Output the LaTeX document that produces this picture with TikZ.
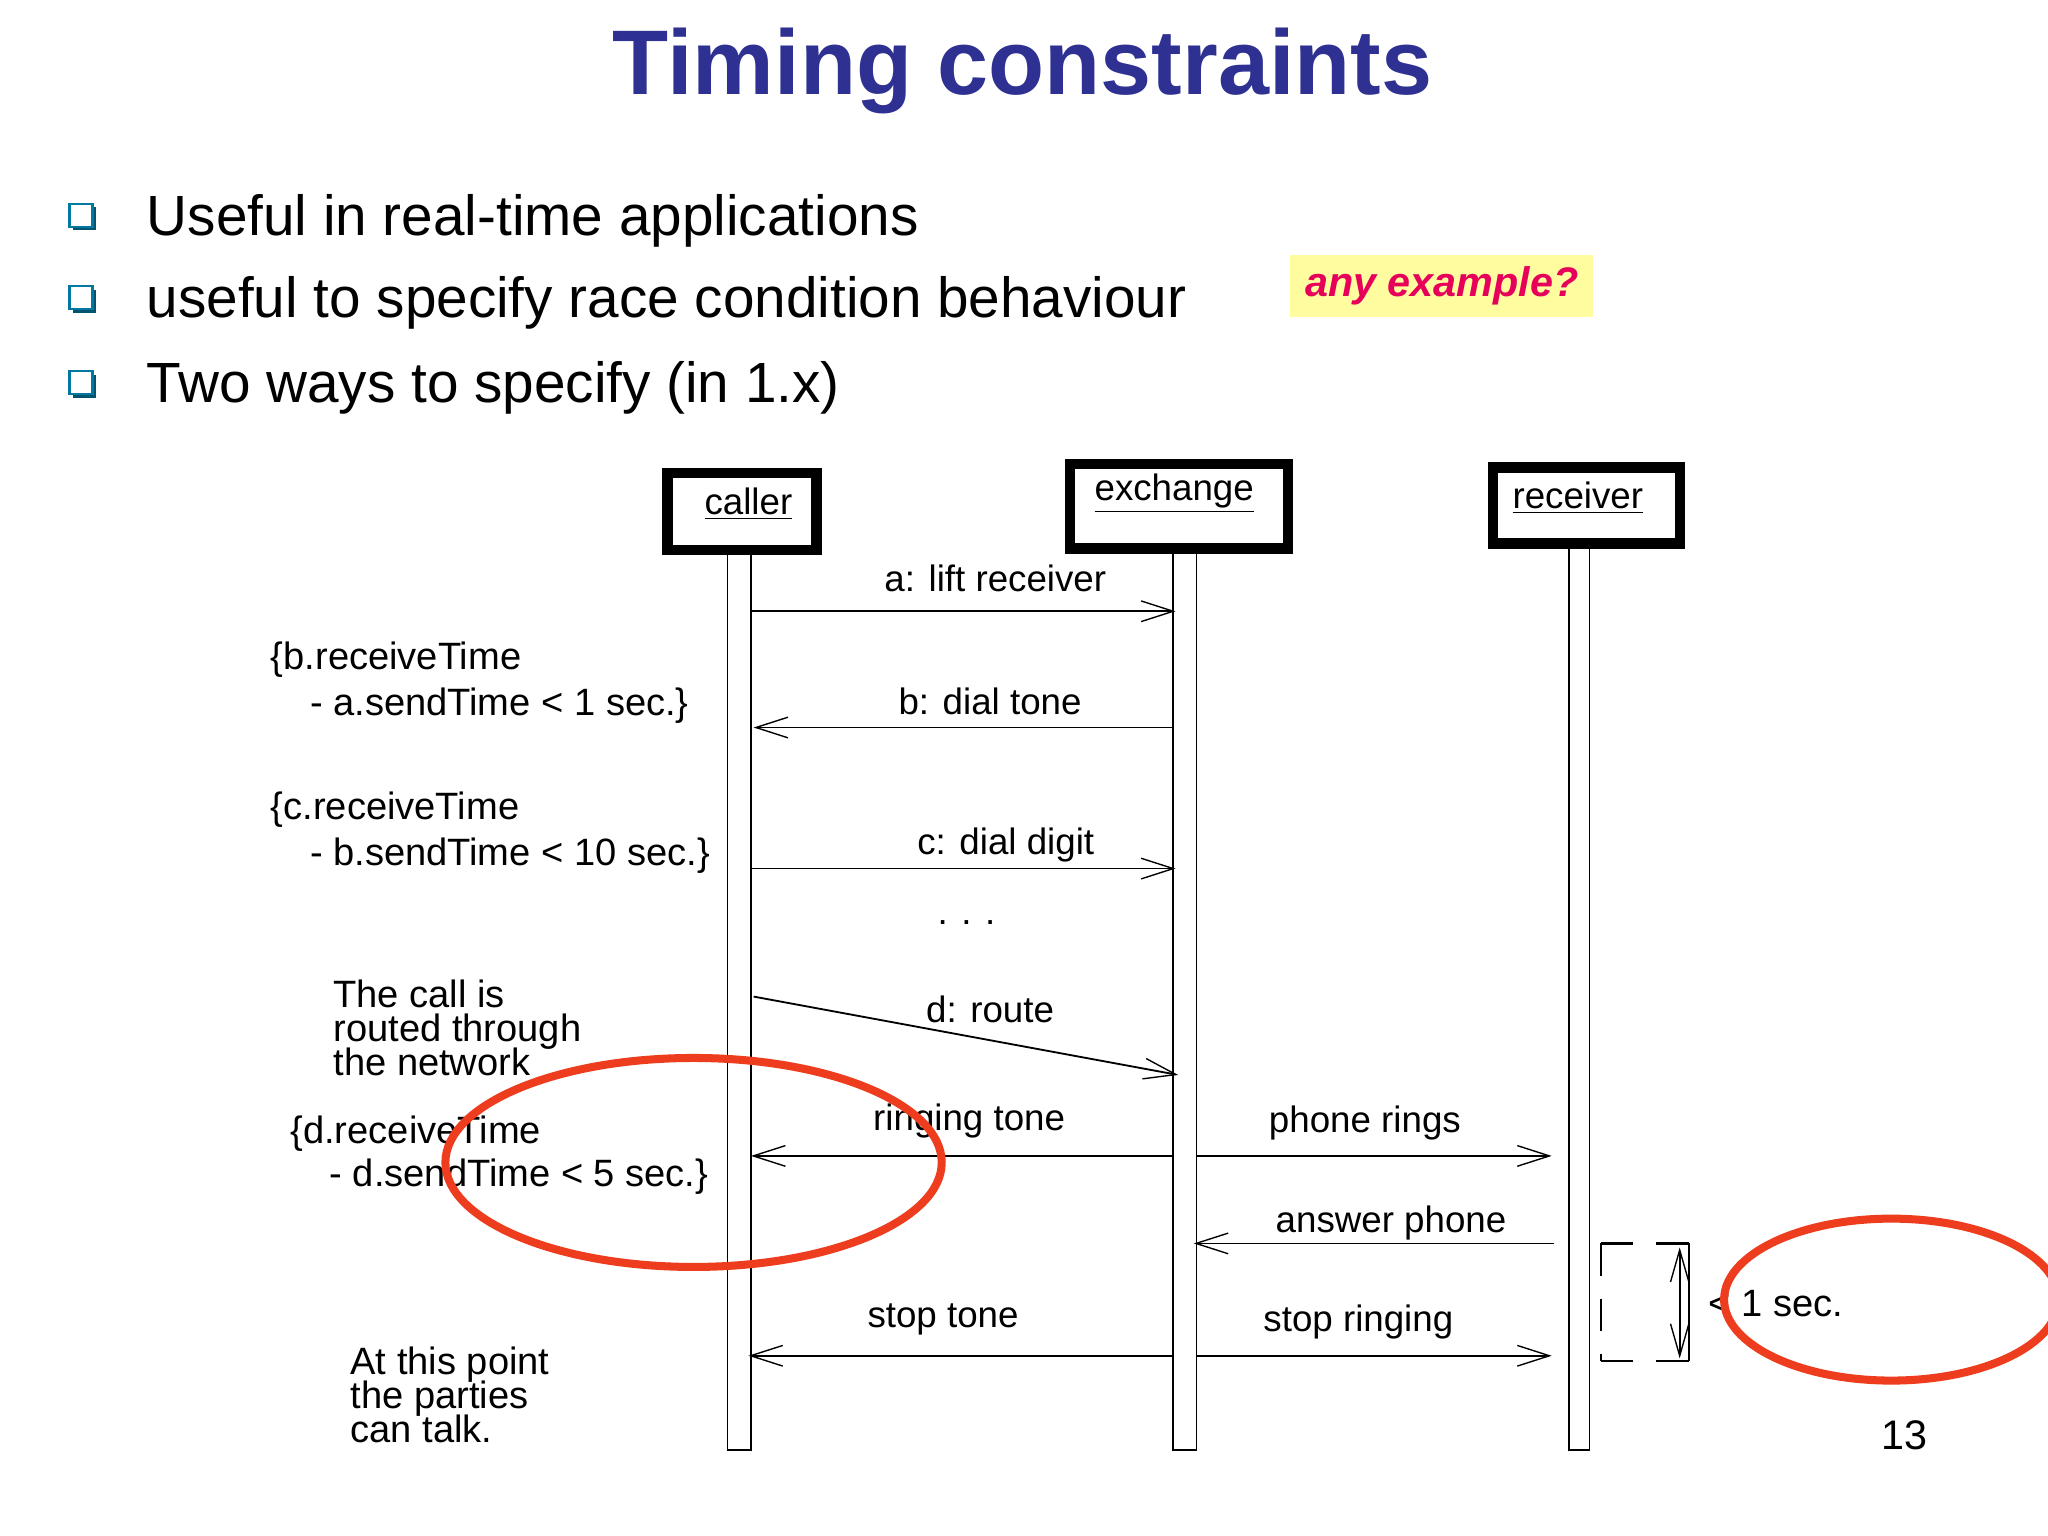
\documentclass[tikz,border=0pt]{standalone}
\usepackage{fontspec}
\setmainfont{Liberation Sans}
\usetikzlibrary{arrows.meta,shadows}
\definecolor{ttl}{RGB}{46,49,146}
\definecolor{blt}{RGB}{0,120,160}
\definecolor{redc}{RGB}{238,60,30}
\definecolor{ylw}{RGB}{255,252,160}
\definecolor{mag}{RGB}{230,0,90}
\begin{document}
\begin{tikzpicture}[x=0.02cm,y=-0.02cm,
  lbl/.style={font=\fontsize{16}{18}\selectfont,inner sep=0},
  note/.style={font=\fontsize{16.6}{18}\selectfont,inner sep=0,anchor=west,align=left},
  bul/.style={font=\fontsize{24.7}{28}\selectfont,inner sep=0,anchor=west},
  bar/.style={draw,fill=white,line width=0.8pt},
  msg/.style={line width=0.8pt,-{Straight Barb[length=14pt,width=9pt,line width=0.6pt]}},
  ring/.style={draw=redc,line width=3.5pt}]
\useasboundingbox (0,0) rectangle (1568,1176);
\fill[white] (0,0) rectangle (1568,1176);
\node[font=\bfseries\fontsize{40}{46}\selectfont,text=ttl] (title) at (783,54) {Timing constraints};
\foreach \y/\t [count=\i] in {165/Useful in real-time applications,228/useful to specify race condition behaviour,293/Two ways to specify (in 1.x)}{
  \node[draw=blt,fill=white,line width=1pt,minimum size=10pt,inner sep=0,drop shadow={shadow xshift=1.5pt,shadow yshift=-1.5pt,fill=blt!70!black,opacity=1}] (bq\i) at (62,\y) {};
  \node[bul] (bt\i) at (112,\y+4) {\t};
}
\node[fill=ylw,minimum width=232*0.02cm,minimum height=48*0.02cm,text=mag,font=\bfseries\itshape\fontsize{18}{20}\selectfont] (ex) at (1104,219) {any example?};
% lifeline bars
\draw[bar] (557,421) rectangle (575,1110);
\draw[bar] (898,420) rectangle (916,1110);
\draw[bar] (1201,416) rectangle (1217,1110);
\draw[line width=4.5pt] (511,362) rectangle (625,421);
\draw[line width=4.5pt] (819,355) rectangle (986,420);
\draw[line width=4.5pt] (1143,358) rectangle (1286,416);
\node[lbl] (caller) at (573,386) {\underline{caller}};
\node[lbl] (exch) at (899,378) {\underline{exchange}};
\node[lbl] (recv) at (1208,381) {\underline{receiver}};
% coordinates
\coordinate (a1) at (575,468); \coordinate (a2) at (900,468);
\coordinate (b1) at (898,557); \coordinate (b2) at (577,557);
\coordinate (c1) at (575,665); \coordinate (c2) at (900,665);
\coordinate (d1) at (577,763); \coordinate (d2) at (902,823);
\coordinate (r1) at (898,885); \coordinate (r2) at (575,885);
\coordinate (p1) at (916,885); \coordinate (p2) at (1188,885);
\coordinate (q1) at (1190,952); \coordinate (q2) at (914,952);
\coordinate (s1) at (898,1038); \coordinate (s2) at (573,1038);
\coordinate (t1) at (916,1038); \coordinate (t2) at (1188,1038);
\draw[msg] (a1) -- (a2); \draw[msg] (b1) -- (b2); \draw[msg] (c1) -- (c2);
\draw[msg] (d1) -- (d2); \draw[msg] (r1) -- (r2); \draw[msg] (p1) -- (p2);
\draw[msg] (q1) -- (q2); \draw[msg] (s1) -- (s2); \draw[msg] (t1) -- (t2);
\node[lbl] (la) at (762,443) {a: lift receiver};
\node[lbl] (lb) at (758,537) {b: dial tone};
\node[lbl] (lc) at (770,647) {c: dial digit};
\node[lbl] (dots) at (740,706) {. . .};
\node[lbl] (ld) at (758,773) {d: route};
\node[lbl] (lr) at (742,858) {ringing tone};
\node[lbl] (lp) at (1045,860) {phone rings};
\node[lbl] (lq) at (1065,936) {answer phone};
\node[lbl] (ls) at (722,1010) {stop tone};
\node[lbl] (lt) at (1040,1012) {stop ringing};
% notes
\node[note] (n1) at (207,505) {\{b.receiveTime};
\node[note] (n2) at (237,540) {- a.sendTime < 1 sec.\}};
\node[note] (n3) at (207,620) {\{c.receiveTime};
\node[note] (n4) at (237,655) {- b.sendTime < 10 sec.\}};
\node[note,align=left] (n5) at (255,787) {The call is\\[-3pt]routed through\\[-3pt]the network};
\node[note] (n6) at (222,868) {\{d.receiveTime};
\node[note] (n7) at (252,901) {- d.sendTime < 5 sec.\}};
\node[note,align=left] (n8) at (268,1068) {At this point\\[-3pt]the parties\\[-3pt]can talk.};
% timing bracket
\draw[dash pattern=on 14pt off 10pt,line width=1pt] (1226,952) -- (1295,952);
\draw[dash pattern=on 14pt off 10pt,line width=1pt] (1226,1042) -- (1295,1042);
\draw[dash pattern=on 14pt off 10pt,line width=1pt] (1226,952) -- (1226,1042);
\draw[line width=1pt] (1293,952) -- (1293,1042);
\coordinate (u1) at (1286,955); \coordinate (u2) at (1286,1040);
\draw[line width=0.8pt,{Straight Barb[length=14pt,width=8pt,line width=0.6pt]}-{Straight Barb[length=14pt,width=8pt,line width=0.6pt]}] (u1) -- (u2);
\node[note] (one) at (1308,998) {< 1 sec.};
% red ellipses
\draw[ring] (531,890) ellipse [x radius=190,y radius=80];
\draw[ring] (1448,995) ellipse [x radius=128,y radius=62];
\node[font=\fontsize{18}{20}\selectfont] (pg) at (1458,1099) {13};
\end{tikzpicture}
\end{document}
